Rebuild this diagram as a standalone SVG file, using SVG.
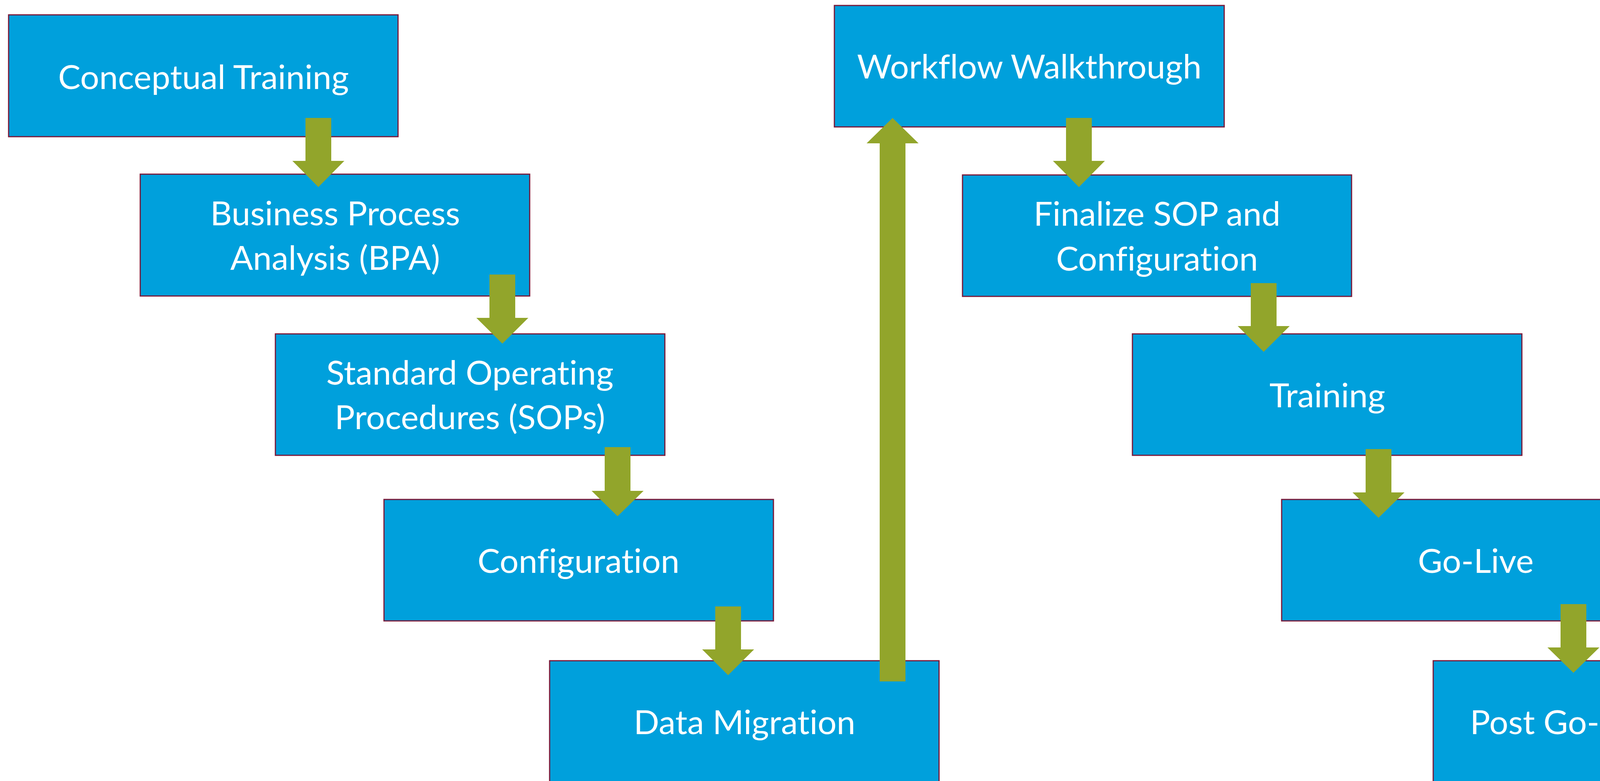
<svg xmlns="http://www.w3.org/2000/svg" width="4682" height="2000" viewBox="0 0 4682 2000">
<style>
.box{fill:#00A0DC;stroke:#7A1838;stroke-width:3}
.lbl{font-family:Lato,"Open Sans","Liberation Sans",sans-serif;font-size:86px;fill:#FFFFFF;text-anchor:middle;font-variant-ligatures:none;font-feature-settings:"liga" 0}
.arr{fill:#92A52B;stroke:none}
</style>
<rect width="4682" height="2000" fill="#FFFFFF"/>
<g id="nodes">
<g id="n1"><rect class="box" x="22" y="38" width="997" height="312"/><text class="lbl" x="521" y="228">Conceptual Training</text></g>
<g id="n2"><rect class="box" x="359" y="446" width="997" height="312"/><text class="lbl" x="858" y="577">Business Process</text><text class="lbl" x="858" y="691">Analysis (BPA)</text></g>
<g id="n3"><rect class="box" x="705" y="855" width="997" height="311"/><text class="lbl" x="1203" y="985">Standard Operating</text><text class="lbl" x="1203" y="1099">Procedures (SOPs)</text></g>
<g id="n4"><rect class="box" x="983" y="1279" width="997" height="311"/><text class="lbl" x="1481" y="1467">Configuration</text></g>
<g id="n5"><rect class="box" x="1407" y="1692" width="997" height="312"/><text class="lbl" x="1906" y="1880">Data Migration</text></g>
<g id="n6"><rect class="box" x="2136" y="14" width="998" height="311"/><text class="lbl" x="2635" y="201">Workflow Walkthrough</text></g>
<g id="n7"><rect class="box" x="2464" y="448" width="996" height="311"/><text class="lbl" x="2962" y="578">Finalize SOP and</text><text class="lbl" x="2962" y="693">Configuration</text></g>
<g id="n8"><rect class="box" x="2899" y="855" width="997" height="311"/><text class="lbl" x="3398" y="1043">Training</text></g>
<g id="n9"><rect class="box" x="3281" y="1279" width="994" height="311"/><text class="lbl" x="3778" y="1467">Go-Live</text></g>
<g id="n10"><rect class="box" x="3669" y="1692" width="997" height="312"/><text class="lbl" x="4167" y="1880">Post Go-Live Support</text></g>
</g>
<g id="connectors">
<path class="arr" d="M782 302 H848 V412 H881.5 L815 479 L748.5 412 H782 Z"/>
<path class="arr" d="M1253 703 H1319 V814 H1352.5 L1286 880 L1219.5 814 H1253 Z"/>
<path class="arr" d="M1548 1145 H1614 V1257 H1647.5 L1581 1322 L1514.5 1257 H1548 Z"/>
<path class="arr" d="M1831 1553 H1897 V1663 H1930.5 L1864 1729 L1797.5 1663 H1831 Z"/>
<path class="arr" d="M2252 1745 H2318 V367 H2351.5 L2285 302 L2218.5 367 H2252 Z"/>
<path class="arr" d="M2729 302 H2795 V412 H2828.5 L2762 479 L2695.5 412 H2729 Z"/>
<path class="arr" d="M3202 725 H3268 V835 H3301.5 L3235 901 L3168.5 835 H3202 Z"/>
<path class="arr" d="M3496 1150 H3562 V1261 H3595.5 L3529 1326 L3462.5 1261 H3496 Z"/>
<path class="arr" d="M3995 1547 H4061 V1658 H4094.5 L4028 1723 L3961.5 1658 H3995 Z"/>
</g>
</svg>
